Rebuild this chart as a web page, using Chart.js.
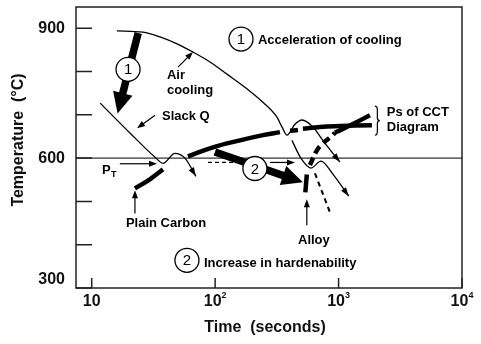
<!DOCTYPE html>
<html>
<head>
<meta charset="utf-8">
<script src="https://cdn.jsdelivr.net/npm/chart.js@4.4.1/dist/chart.umd.min.js"></script>
<style>
html, body { margin: 0; padding: 0; background: #fff; }
#wrap { width: 481px; height: 344px; }
</style>
</head>
<body>
<div id="wrap"><canvas id="cct" width="481" height="344"></canvas></div>
<script>
// axis ticks
const xTicks = [10, 100, 1000, 10000];
const xTickExp = ["", "2", "3", "4"];
const yTicks = [300, 400, 500, 600, 700, 800, 900];
const yTickLabels = ["300", "", "", "600", "", "", "900"];

// cooling curves (time s, temperature C)
const airCoolingTime = [16, 26, 35.7, 49.1, 66.1, 90.8, 124.6, 181, 244, 316, 348, 382, 443, 505, 620, 746, 899, 1025];
const airCoolingTemp = [894, 891, 880, 864, 845, 822, 794, 760, 729, 695, 672, 653, 678, 688, 672, 641, 611, 591];
const slackQTime = [11.7, 20.4, 32.6, 37.8, 47.2, 56.9, 69.9];
const slackQTemp = [727, 658, 602, 588, 611, 600, 558];
const alloyCoolTime = [419, 495, 597, 720, 899, 1210];
const alloyCoolTemp = [641, 600, 577, 593, 563, 512];

// pearlite start lines (null = break in the line)
const psPlainTime = [22.4, 29.6, 37.8, null, 60.2, 96, 159, 244, 335, null, 404, 469, null, 514, 706, 1025, 1862];
const psPlainTemp = [530, 551, 574, null, 604, 625, 641, 653, 660, null, 663, 665, null, 668, 672, 674, 676];
const psAlloyLowTime = [538, 553];
const psAlloyLowTemp = [521, 562];
const psAlloyMidTime = [586, 668, 746, 899, 933];
const psAlloyMidTemp = [584, 618, 634, 653, 659];
const psAlloyHighTime = [933, 1025, 1355, 1795];
const psAlloyHighTemp = [659, 664, 681, 699];
const bainiteTime = [643, 851];
const bainiteTemp = [565, 475];
const ptLineTime = [87.5, 145];
const ptLineTemp = [590, 590];
const refTime = [7.46, 10000];
const refTemp = [600, 600];

function pts(ts, vs) {
  const out = [];
  let last = ts.find(t => t !== null);
  ts.forEach((t, i) => {
    if (t === null) out.push({ x: last, y: null });
    else { out.push({ x: t, y: vs[i] }); last = t; }
  });
  return out;
}

const FONT = "'Liberation Sans', Arial, sans-serif";

// annotation layout, in data coordinates
const thinArrows = [
  [50.0, 810, 66.1, 845],
  [32.6, 699, 23.3, 669],
  [16.9, 587, 33.8, 587],
  [22.4, 472, 22.4, 526],
  [553, 445, 553, 505],
  [278, 590, 443, 590]
];
const thickArrows = [
  [23.8, 889, 16.2, 703],
  [99.6, 614, 514, 544]
];
const circles = [
  [19.7, 805, "1"], [162, 875, "1"], [210, 576, "2"], [59.1, 364, "2"]
];
const notes = [
  ["Acceleration of cooling", 222, 871, "left"],
  ["Increase in hardenability", 81.2, 357, "left"],
  ["Air", 40.7, 792, "left"],
  ["cooling", 40.7, 757, "left"],
  ["Slack Q", 37.1, 697, "left"],
  ["Plain Carbon", 40, 449, "center"],
  ["Alloy", 631, 410, "center"],
  ["Ps of CCT", 2460, 706, "left"],
  ["Diagram", 2460, 672, "left"]
];

function head(ctx, x, y, ang, len, wid) {
  const c = Math.cos(ang), s = Math.sin(ang);
  ctx.beginPath();
  ctx.moveTo(x, y);
  ctx.lineTo(x - len * c + wid / 2 * s, y - len * s - wid / 2 * c);
  ctx.lineTo(x - len * c - wid / 2 * s, y - len * s + wid / 2 * c);
  ctx.closePath();
  ctx.fill();
}

function arrow(ctx, x1, y1, x2, y2, w, len, wid) {
  const ang = Math.atan2(y2 - y1, x2 - x1);
  ctx.lineWidth = w;
  ctx.beginPath();
  ctx.moveTo(x1, y1);
  ctx.lineTo(x2 - len * 0.8 * Math.cos(ang), y2 - len * 0.8 * Math.sin(ang));
  ctx.stroke();
  head(ctx, x2, y2, ang, len, wid);
}

const decor = {
  id: "decor",
  afterDatasetsDraw(chart) {
    const ctx = chart.ctx;
    const xs = chart.scales.x, ys = chart.scales.y;
    const a = chart.chartArea;
    const X = v => xs.getPixelForValue(v), Y = v => ys.getPixelForValue(v);
    ctx.save();
    ctx.fillStyle = "#000";
    ctx.strokeStyle = "#000";

    // arrowheads at the end of cooling curves
    chart.data.datasets.forEach((ds, i) => {
      if (!ds.arrowEnd) return;
      const p = chart.getDatasetMeta(i).data;
      const e = p[p.length - 1];
      const bx = e.cp1x !== undefined ? e.cp1x : p[p.length - 2].x;
      const by = e.cp1y !== undefined ? e.cp1y : p[p.length - 2].y;
      head(ctx, e.x, e.y, Math.atan2(e.y - by, e.x - bx), 9, 6);
    });

    thinArrows.forEach(r => arrow(ctx, X(r[0]), Y(r[1]), X(r[2]), Y(r[3]), 1.2, 8, 6));
    thickArrows.forEach(r => arrow(ctx, X(r[0]), Y(r[1]), X(r[2]), Y(r[3]), 7.5, 21, 20));

    ctx.lineWidth = 1.3;
    ctx.textAlign = "center";
    ctx.textBaseline = "middle";
    ctx.font = "15px " + FONT;
    circles.forEach(c => {
      const cx = X(c[0]), cy = Y(c[1]);
      ctx.beginPath();
      ctx.arc(cx, cy, 12, 0, Math.PI * 2);
      ctx.fillStyle = "#fff";
      ctx.fill();
      ctx.stroke();
      ctx.fillStyle = "#000";
      ctx.fillText(c[2], cx, cy + 1);
    });

    ctx.font = "bold 13px " + FONT;
    notes.forEach(n => {
      ctx.textAlign = n[3];
      ctx.fillText(n[0], X(n[1]), Y(n[2]));
    });
    ctx.textAlign = "left";
    ctx.fillText("P", X(12.1), Y(572));
    ctx.font = "bold 9px " + FONT;
    ctx.fillText("T", X(14.3), Y(561));

    // brace
    const bx = X(1968), b1 = Y(720), b2 = Y(653), bm = (b1 + b2) / 2, w = 5;
    ctx.lineWidth = 1.2;
    ctx.beginPath();
    ctx.moveTo(bx, b1);
    ctx.quadraticCurveTo(bx + w / 2, b1, bx + w / 2, b1 + 4);
    ctx.lineTo(bx + w / 2, bm - 3);
    ctx.quadraticCurveTo(bx + w / 2, bm, bx + w, bm);
    ctx.quadraticCurveTo(bx + w / 2, bm, bx + w / 2, bm + 3);
    ctx.lineTo(bx + w / 2, b2 - 4);
    ctx.quadraticCurveTo(bx + w / 2, b2, bx, b2);
    ctx.stroke();

    // frame and inward ticks
    ctx.strokeStyle = "#222";
    ctx.lineWidth = 1.5;
    ctx.strokeRect(a.left, a.top, a.right - a.left, a.bottom - a.top);
    ctx.beginPath();
    yTicks.forEach(t => { const y = Y(t); ctx.moveTo(a.left, y); ctx.lineTo(a.left + 16, y); });
    xTicks.forEach(t => { const x = X(t); ctx.moveTo(x, a.bottom); ctx.lineTo(x, a.bottom - 10); });
    ctx.stroke();

    // tick labels
    ctx.fillStyle = "#111";
    ctx.font = "bold 16px " + FONT;
    ctx.textAlign = "right";
    yTicks.forEach((t, i) => {
      if (!yTickLabels[i]) return;
      ctx.fillText(yTickLabels[i], 65, Math.min(Y(t), a.bottom - 8));
    });
    ctx.textAlign = "left";
    xTicks.forEach((t, i) => {
      ctx.font = "bold 16px " + FONT;
      const bw = ctx.measureText("10").width;
      ctx.font = "bold 9px " + FONT;
      const ew = xTickExp[i] ? ctx.measureText(xTickExp[i]).width : 0;
      const x0 = X(t) - (bw + ew) / 2;
      ctx.font = "bold 16px " + FONT;
      ctx.fillText("10", x0, 302);
      if (ew) { ctx.font = "bold 9px " + FONT; ctx.fillText(xTickExp[i], x0 + bw, 296); }
    });

    // axis titles
    ctx.font = "bold 16px " + FONT;
    ctx.textAlign = "center";
    ctx.fillText("Time  (seconds)", 265, 328);
    ctx.translate(19, 140);
    ctx.rotate(-Math.PI / 2);
    ctx.fillText("Temperature  (\u00B0C)", 0, 0);
    ctx.restore();
  }
};

const thin = { borderColor: "#000", borderWidth: 1.3, pointRadius: 0, fill: false, cubicInterpolationMode: "monotone" };
const thick = { borderColor: "#000", borderWidth: 4.5, pointRadius: 0, fill: false, tension: 0.4, borderCapStyle: "butt" };

const data = {
  datasets: [
    { ...thin, label: "600 C", data: pts(refTime, refTemp), borderWidth: 1, cubicInterpolationMode: "default", tension: 0 },
    { ...thick, label: "Ps plain carbon", data: pts(psPlainTime, psPlainTemp), spanGaps: false },
    { ...thick, label: "Ps alloy low", data: pts(psAlloyLowTime, psAlloyLowTemp), tension: 0 },
    { ...thick, label: "Ps alloy", data: pts(psAlloyMidTime, psAlloyMidTemp), borderDash: [8, 5] },
    { ...thick, label: "Ps alloy high", data: pts(psAlloyHighTime, psAlloyHighTemp) },
    { ...thin, label: "Bainite", data: pts(bainiteTime, bainiteTemp), borderWidth: 2, borderDash: [5, 4], cubicInterpolationMode: "default", tension: 0 },
    { ...thin, label: "PT", data: pts(ptLineTime, ptLineTemp), borderWidth: 1.2, borderDash: [4, 3], cubicInterpolationMode: "default", tension: 0 },
    { ...thin, label: "Air cooling", data: pts(airCoolingTime, airCoolingTemp), arrowEnd: true },
    { ...thin, label: "Slack Q", data: pts(slackQTime, slackQTemp), arrowEnd: true },
    { ...thin, label: "Alloy cooling", data: pts(alloyCoolTime, alloyCoolTemp), arrowEnd: true }
  ]
};

const config = {
  type: "line",
  data: data,
  options: {
    responsive: false,
    devicePixelRatio: 1,
    animation: false,
    layout: { padding: { left: 76, top: 7, right: 19, bottom: 56 } },
    scales: {
      x: { type: "logarithmic", min: 7.46, max: 10000, display: false },
      y: { type: "linear", min: 300, max: 949, display: false }
    },
    plugins: { legend: { display: false }, tooltip: { enabled: false } }
  },
  plugins: [decor]
};

const cct = document.getElementById("cct");
if (cct) {
  new Chart(cct, config);
}
</script>
</body>
</html>
